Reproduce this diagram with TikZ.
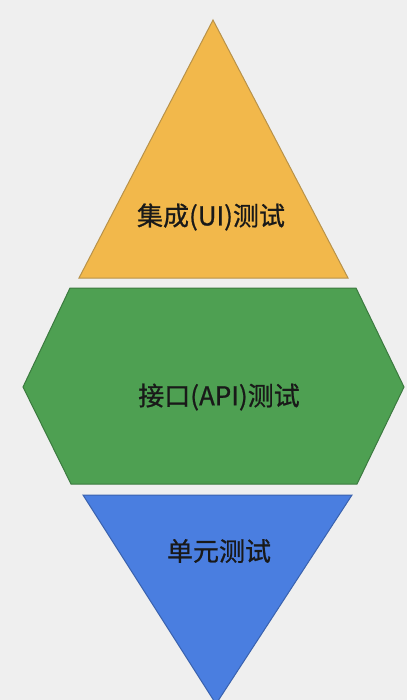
\documentclass[tikz,border=0pt]{standalone}
\usepackage{fontspec}
\setmainfont{Noto Sans CJK SC}
\newfontfamily\layerfont[FakeBold=0.8]{Noto Sans CJK SC}
\usetikzlibrary{positioning}
\definecolor{pagegray}{HTML}{EFEFEF}
\definecolor{uifill}{HTML}{F2B84B}
\definecolor{uiline}{HTML}{B8924A}
\definecolor{apifill}{HTML}{4EA052}
\definecolor{apiline}{HTML}{3B7A3F}
\definecolor{unitfill}{HTML}{4A7EE0}
\definecolor{unitline}{HTML}{3A62AE}
\tikzset{
    layer label/.style={font=\layerfont\fontsize{26}{30}\selectfont, text=black!90},
}

\begin{document}
\begin{tikzpicture}[x=1pt, y=-1pt]
    \useasboundingbox (0,0) rectangle (407,700);
    \fill[pagegray] (0,0) rectangle (407,700);
    % UI layer
    \draw[fill=uifill, draw=uiline, line width=1pt] (213,20) -- (348,278) -- (79,278) -- cycle;
    \node[layer label] (ui) at (211,217) {集成(UI)测试};
    % API layer
    \draw[fill=apifill, draw=apiline, line width=1pt] (70,288) -- (356,288) -- (404,387) -- (357,484) -- (71,484) -- (23,387) -- cycle;
    \node[layer label] (api) at (219,397) {接口(API)测试};
    % unit layer
    \draw[fill=unitfill, draw=unitline, line width=1pt] (83,495) -- (352,495) -- (216,704) -- cycle;
    \node[layer label] (unit) at (219,551) {单元测试};
\end{tikzpicture}
\end{document}
